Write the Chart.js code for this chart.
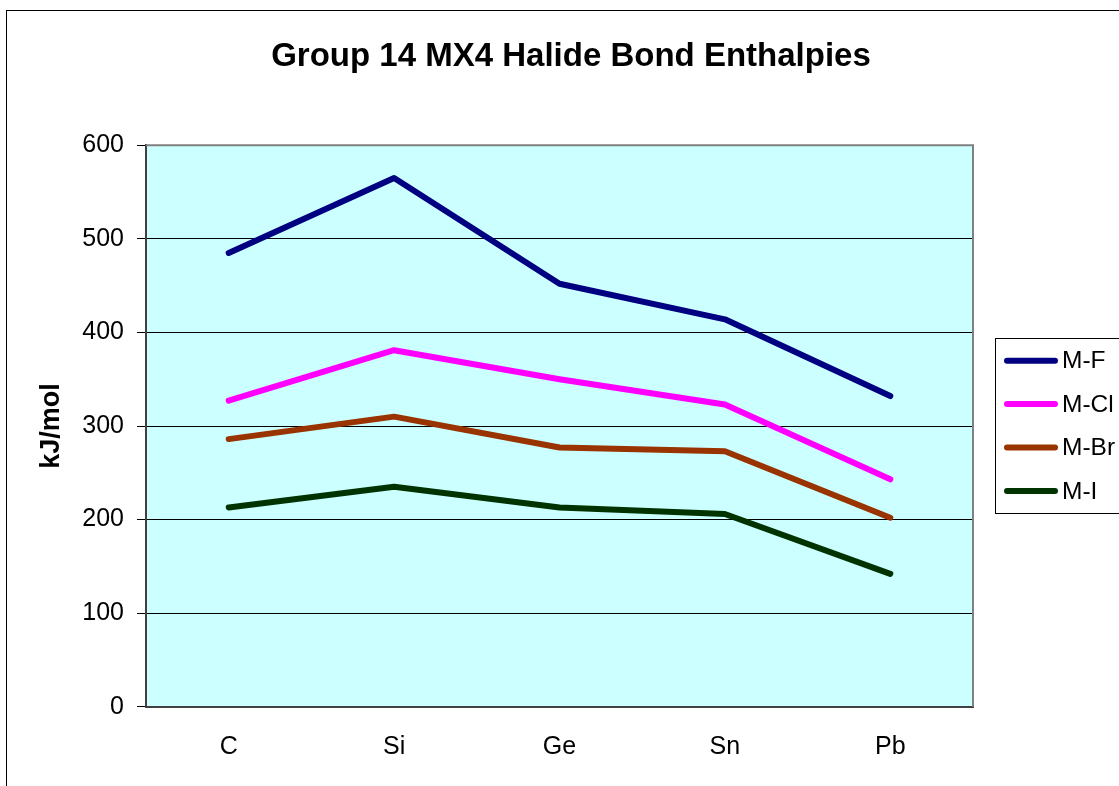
<!DOCTYPE html>
<html>
<head>
<meta charset="utf-8">
<script src="https://cdn.jsdelivr.net/npm/chart.js@4/dist/chart.umd.min.js"></script>
<style>
  html, body { margin: 0; padding: 0; background: #ffffff; overflow: hidden; }
  #wrap { position: relative; width: 1119px; height: 786px; }
</style>
</head>
<body>
<div id="wrap"><canvas id="c" width="1119" height="786"></canvas></div>
<script>
// ---- data ----
const categories = ['C', 'Si', 'Ge', 'Sn', 'Pb'];
const seriesNames = ['M-F', 'M-Cl', 'M-Br', 'M-I'];
const mF  = [485, 565, 452, 414, 332];
const mCl = [327, 381, 350, 323, 243];
const mBr = [286, 310, 277, 273, 202];
const mI  = [213, 235, 213, 206, 142];
const yTickValues = [0, 100, 200, 300, 400, 500, 600];
const chartTitle = 'Group 14 MX4 Halide Bond Enthalpies';
const yTitle = 'kJ/mol';

const FONT = '"Liberation Sans", Arial, sans-serif';
const colors = ['#000080', '#FF00FF', '#993300', '#003300'];
const seriesData = [mF, mCl, mBr, mI];

const bgPlugin = {
  id: 'bgPlugin',
  beforeDraw(chart) {
    const {ctx, chartArea: a} = chart;
    ctx.save();
    ctx.fillStyle = '#ffffff';
    ctx.fillRect(0, 0, chart.width, chart.height);
    // outer chart frame (extends past the right and bottom edges)
    ctx.strokeStyle = '#000000';
    ctx.lineWidth = 1;
    ctx.strokeRect(6.5, 10.5, 1140, 800);
    // plot area
    ctx.fillStyle = '#CCFFFF';
    ctx.fillRect(a.left, a.top, a.right - a.left, a.bottom - a.top);
    ctx.restore();
  },
  beforeDatasetsDraw(chart) {
    const {ctx, chartArea: a} = chart;
    ctx.save();
    ctx.strokeStyle = '#808080';
    ctx.lineWidth = 2;
    ctx.beginPath();
    ctx.moveTo(a.left, a.top);
    ctx.lineTo(a.right, a.top);
    ctx.lineTo(a.right, a.bottom);
    ctx.stroke();
    ctx.restore();
  }
};

const boxLegend = {
  id: 'boxLegend',
  afterDraw(chart) {
    const {ctx} = chart;
    const x0 = 995.5, y0 = 338.5, h = 175;
    ctx.save();
    ctx.strokeStyle = '#000000';
    ctx.lineWidth = 1;
    ctx.strokeRect(x0, y0, 200, h);
    chart.data.datasets.forEach((ds, i) => {
      const y = 360.7 + i * 43.4;
      ctx.strokeStyle = ds.borderColor;
      ctx.lineWidth = 6;
      ctx.lineCap = 'round';
      ctx.beginPath();
      ctx.moveTo(1007, y);
      ctx.lineTo(1055, y);
      ctx.stroke();
      ctx.fillStyle = '#000000';
      ctx.font = '24.5px ' + FONT;
      ctx.textBaseline = 'middle';
      ctx.textAlign = 'left';
      ctx.fillText(ds.label, 1062, y + 1);
    });
    ctx.restore();
  }
};

new Chart(document.getElementById('c'), {
  type: 'line',
  data: {
    labels: categories,
    datasets: seriesNames.map((name, i) => ({
      label: name,
      data: seriesData[i],
      borderColor: colors[i],
      backgroundColor: colors[i],
      borderWidth: 6,
      pointRadius: 0,
      pointHoverRadius: 0,
      tension: 0,
      fill: false,
      borderCapStyle: 'round',
      borderJoinStyle: 'round',
      yAxisID: 'y'
    }))
  },
  options: {
    responsive: false,
    animation: false,
    events: [],
    layout: { padding: { left: 23, right: 0, top: 0, bottom: 0 } },
    plugins: {
      legend: { display: false },
      tooltip: { enabled: false },
      title: {
        display: true,
        text: chartTitle,
        color: '#000000',
        font: { family: FONT, size: 33, weight: 'bold', lineHeight: 1.2 },
        padding: { top: 37.2, bottom: 68.5 }
      }
    },
    scales: {
      x: {
        type: 'category',
        offset: true,
        grid: { display: false, drawTicks: false },
        border: { display: true, color: '#404040', width: 2 },
        ticks: { color: '#000000', font: { family: FONT, size: 25 }, padding: 25, maxRotation: 0 },
        afterFit(scale) { scale.height = 79.3; }
      },
      y: {
        position: 'left',
        min: 0,
        max: 600,
        afterBuildTicks(scale) { scale.ticks = yTickValues.map(v => ({ value: v })); },
        grid: {
          color: (c) => (c.tick && c.tick.value === 600 ? '#808080' : '#000000'),
          lineWidth: 1,
          drawTicks: true,
          tickLength: 9,
          tickColor: '#000000'
        },
        border: { display: true, color: '#404040', width: 2 },
        ticks: { color: '#000000', font: { family: FONT, size: 25 }, padding: 13 },
        title: {
          display: true,
          text: yTitle,
          color: '#000000',
          font: { family: FONT, size: 27, weight: 'bold', lineHeight: 1.2 },
          padding: { top: 12, bottom: 0 }
        },
        afterFit(scale) { scale.width = 123; }
      },
      spacer: {
        position: 'right',
        display: true,
        grid: { display: false, drawTicks: false },
        border: { display: false },
        ticks: { display: false },
        afterFit(scale) { scale.width = 146; }
      }
    }
  },
  plugins: [bgPlugin, boxLegend]
});
</script>
</body>
</html>
